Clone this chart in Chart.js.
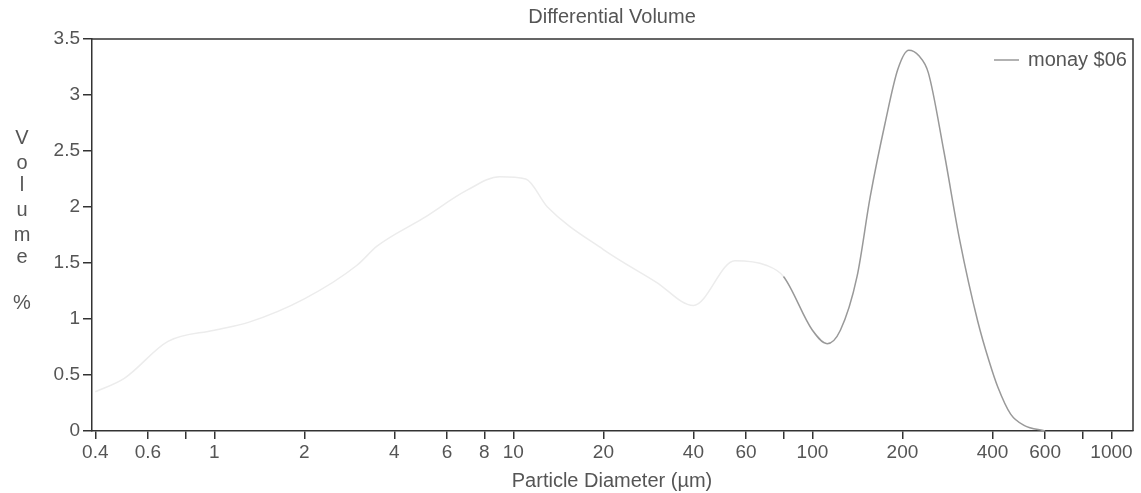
<!DOCTYPE html>
<html>
<head>
<meta charset="utf-8">
<script src="https://cdn.jsdelivr.net/npm/chart.js@4/dist/chart.umd.min.js"></script>
<style>
  html,body{margin:0;padding:0;background:#fff;}
  #wrap{width:1141px;height:493px;position:relative;}
</style>
</head>
<body>
<div id="wrap"><canvas id="c" width="1141" height="493"></canvas></div>
<script>
// ---- data ----
const diameters = [0.4, 0.5, 0.7, 1.0, 1.3, 2.0, 3.0, 3.5, 5.0, 7.0, 9.0, 11, 13, 20, 30, 40, 55, 70, 80, 100, 112, 124, 141, 156, 175, 193, 210, 227, 244, 275, 311, 357, 390, 417, 460, 510, 600];
const volumePct = [0.35, 0.47, 0.80, 0.90, 0.97, 1.18, 1.48, 1.65, 1.90, 2.15, 2.27, 2.25, 2.00, 1.62, 1.33, 1.12, 1.52, 1.48, 1.38, 0.90, 0.78, 0.90, 1.38, 2.09, 2.75, 3.23, 3.40, 3.35, 3.20, 2.50, 1.70, 0.98, 0.62, 0.39, 0.15, 0.05, 0.0];
const xTickValues = [0.4, 0.6, 0.8, 1, 2, 4, 6, 8, 10, 20, 40, 60, 80, 100, 200, 400, 600, 800, 1000];
const xTickLabels = ['0.4', '0.6', '', '1', '2', '4', '6', '8', '10', '20', '40', '60', '', '100', '200', '400', '600', '', '1000'];
const yTickLabels = ['0', '0.5', '1', '1.5', '2', '2.5', '3', '3.5'];
const seriesName = 'monay $06';
const titleText = 'Differential Volume';
const xTitle = 'Particle Diameter (\u00b5m)';
const yTitleLetters = ['V', 'o', 'l', 'u', 'm', 'e', '%'];

const FONT = '"Liberation Sans", Arial, sans-serif';
const TXT = '#555';
const AXIS = '#333';

const decor = {
  id: 'decor',
  afterDraw(chart) {
    const ctx = chart.ctx, a = chart.chartArea;
    ctx.save();
    // frame top/right
    ctx.strokeStyle = AXIS; ctx.lineWidth = 1.5;
    ctx.beginPath();
    ctx.moveTo(a.left, a.top); ctx.lineTo(a.right, a.top); ctx.lineTo(a.right, a.bottom);
    ctx.stroke();
    // title
    ctx.fillStyle = TXT;
    ctx.font = '20px ' + FONT;
    ctx.textAlign = 'center'; ctx.textBaseline = 'middle';
    ctx.fillText(titleText, 612, 17);
    // x title
    ctx.fillText(xTitle, 612, 481);
    // y title stacked letters
    const ys = [138, 163, 185, 210, 235, 257, 303];
    yTitleLetters.forEach((l, i) => ctx.fillText(l, 22, ys[i]));
    // legend
    ctx.strokeStyle = '#999'; ctx.lineWidth = 1.5;
    ctx.beginPath(); ctx.moveTo(994, 60); ctx.lineTo(1019, 60); ctx.stroke();
    ctx.textAlign = 'left';
    ctx.fillText(seriesName, 1028, 60);
    ctx.restore();
  }
};

new Chart(document.getElementById('c'), {
  type: 'line',
  data: {
    datasets: [{
      label: seriesName,
      data: diameters.map((d, i) => ({x: d, y: volumePct[i]})),
      borderColor: '#999',
      borderWidth: 1.5,
      pointRadius: 0,
      fill: false,
      cubicInterpolationMode: 'monotone',
      segment: {
        borderColor: ctx => (ctx.p0.parsed.x < 75 ? '#ececec' : '#999')
      }
    }]
  },
  options: {
    responsive: false,
    animation: false,
    layout: {padding: {top: 39, right: 8, left: 0, bottom: 0}},
    plugins: {legend: {display: false}, title: {display: false}, tooltip: {enabled: false}},
    scales: {
      x: {
        type: 'logarithmic',
        min: 0.39, max: 1180,
        afterBuildTicks: s => { s.ticks = xTickValues.map(v => ({value: v})); },
        afterFit: s => { s.height = 62; },
        grid: {drawOnChartArea: false, drawTicks: true, tickLength: 8, color: AXIS, lineWidth: 1.5},
        border: {display: true, color: AXIS, width: 1.5},
        ticks: {
          autoSkip: false, maxRotation: 0, minRotation: 0, padding: 2,
          color: TXT, font: {family: FONT, size: 19},
          callback: (v, i) => xTickLabels[i]
        }
      },
      y: {
        min: 0, max: 3.5,
        afterFit: s => { s.width = 92; },
        grid: {drawOnChartArea: false, drawTicks: true, tickLength: 9, color: AXIS, lineWidth: 1.5},
        border: {display: true, color: AXIS, width: 1.5},
        ticks: {
          stepSize: 0.5, padding: 3,
          color: TXT, font: {family: FONT, size: 19},
          callback: (v, i) => yTickLabels[i]
        }
      }
    }
  },
  plugins: [decor]
});
</script>
</body>
</html>
